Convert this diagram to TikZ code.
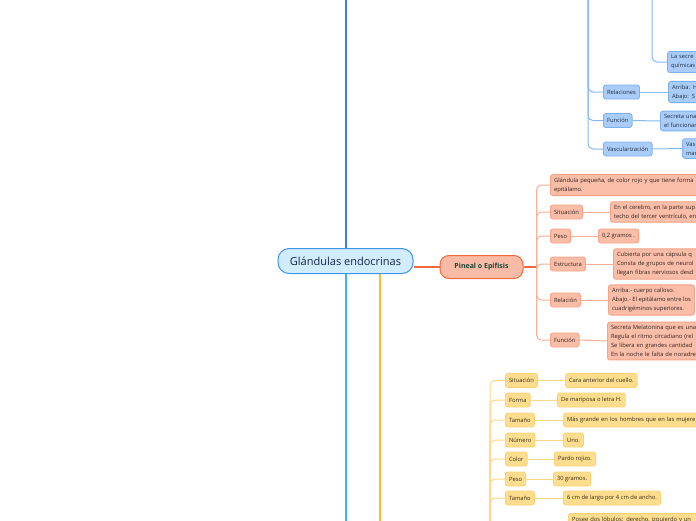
\documentclass[tikz,border=0pt]{standalone}
\usepackage{fontspec}
\setmainfont{Open Sans}
\definecolor{cfill}{HTML}{D0ECFD}
\definecolor{cdraw}{HTML}{3F95E6}
\definecolor{ctext}{HTML}{16264A}
\definecolor{pfill}{HTML}{F9BBA6}
\definecolor{pdraw}{HTML}{EF6A40}
\definecolor{ptext}{HTML}{1D4636}
\definecolor{bfill}{HTML}{A9CDF8}
\definecolor{bdraw}{HTML}{7DB0F0}
\definecolor{btext}{HTML}{1E2A44}
\definecolor{rfill}{HTML}{F9BDA8}
\definecolor{rdraw}{HTML}{F8A285}
\definecolor{rtext}{HTML}{33231C}
\definecolor{yfill}{HTML}{FEDD8E}
\definecolor{ydraw}{HTML}{FDD173}
\definecolor{ytext}{HTML}{352A12}
\definecolor{bline}{HTML}{86B8F2}
\definecolor{rline}{HTML}{F9AD92}
\definecolor{yline}{HTML}{FDD686}
\definecolor{mdblue}{HTML}{3A7EE0}
\definecolor{mlblue}{HTML}{3FB5F3}
\definecolor{myellow}{HTML}{FBBF2D}
\definecolor{morange}{HTML}{F16A3B}
\pgfdeclarelayer{bg}
\pgfsetlayers{bg,main}
\begin{document}
\begin{tikzpicture}[x=1pt,y=-1pt,
  box/.style={rounded corners=2.5pt, line width=0.9pt, inner xsep=3.6pt, inner ysep=3.2pt,
    font=\fontsize{5.8}{9}\selectfont, anchor=west, align=left},
  one/.style={minimum height=14pt},
  cut/.style={text width=#1},
  bb/.style={box, draw=bdraw, fill=bfill, text=btext},
  rb/.style={box, draw=rdraw, fill=rfill, text=rtext},
  yb/.style={box, draw=ydraw, fill=yfill, text=ytext},
  bl/.style={draw=bline, line width=1pt, rounded corners=5pt},
  rl/.style={draw=rline, line width=1pt, rounded corners=5pt},
  yl/.style={draw=yline, line width=1pt, rounded corners=5pt},
  mainline/.style={line width=2pt},
  central/.style={draw=cdraw, fill=cfill, text=ctext, line width=1pt, rounded corners=11pt,
    minimum width=135pt, minimum height=25pt, font=\fontsize{11}{13}\selectfont, inner sep=0pt},
  pineal/.style={draw=pdraw, fill=pfill, text=ptext, line width=1pt, rounded corners=9pt,
    minimum width=83pt, minimum height=23pt, font=\fontsize{7}{9}\selectfont\bfseries, inner sep=0pt}
]
\useasboundingbox (0,0) rectangle (696,520);
\clip (0,0) rectangle (696,520);

% central and first level
\node[central] (c) at (345.5,261) {Glándulas endocrinas};
\node[pineal] (p) at (481.5,267) {Pineal o Epífisis};

% Pineal branch
\node[rb, cut=150pt] (p1) at (550,185) {Glándula pequeña, de color rojo y que tiene forma\\epitálamo.};
\node[rb, one] (p2) at (550,212) {Situación};
\node[rb, cut=150pt] (p2a) at (610,212) {En el cerebro, en la parte sup\\techo del tercer ventrículo, en};
\node[rb, one] (p3) at (550,236) {Peso};
\node[rb, one] (p3a) at (598,236) {0,2 gramos .};
\node[rb, one] (p4) at (550,264) {Estructura};
\node[rb, cut=150pt] (p4a) at (613,264) {Cubierta por una cápsula q\\Consta de grupos de neurol\\llegan fibras nerviosos desd};
\node[rb, one] (p5) at (550,300) {Relación};
\node[rb] (p5a) at (608,300) {Arriba.- cuerpo calloso.\\Abajo.- El epitálamo entre los\\cuadrigéminos superiores.};
\node[rb, one] (p6) at (550,340) {Función};
\node[rb, cut=150pt] (p6a) at (607,341) {Secreta Melatonina que es una\\Regula el ritmo circadiano (rel\\Se libera en grandes cantidad\\En la noche le falta de noradre};

% Blue branch (top)
\node[bb, cut=60pt] (b0a) at (667,62) {La secre\\químicas};
\node[bb, one] (b1) at (603,92) {Relaciones};
\node[bb, cut=60pt] (b1a) at (668,92) {Arriba: H\\Abajo: S};
\node[bb, one] (b2) at (603,120.5) {Función};
\node[bb, cut=60pt] (b2a) at (660,121) {Secreta una\\el funcionam};
\node[bb, one] (b3) at (603,149) {Vascularización};
\node[bb, cut=60pt] (b3a) at (682,148.5) {Vas\\mar};

% Yellow branch (bottom)
\node[yb, one] (y1) at (505,380.5) {Situación};
\node[yb, one] (y1a) at (565,380.5) {Cara anterior del cuello.};
\node[yb, one] (y2) at (505,400) {Forma};
\node[yb, one] (y2a) at (557,400) {De mariposa o letra H.};
\node[yb, one] (y3) at (505,420) {Tamaño};
\node[yb, one, cut=150pt] (y3a) at (563,420) {Más grande en los hombres que en las mujere};
\node[yb, one] (y4) at (505,440) {Número};
\node[yb, one] (y4a) at (563,440) {Uno.};
\node[yb, one] (y5) at (505,459) {Color};
\node[yb, one] (y5a) at (554,459) {Pardo rojizo.};
\node[yb, one] (y6) at (505,479) {Peso};
\node[yb, one] (y6a) at (553,479) {30 gramos.};
\node[yb, one] (y7) at (505,498) {Tamaño};
\node[yb, one] (y7a) at (563,498) {6 cm de largo por 4 cm de ancho.};
\node[yb, one, cut=150pt, anchor=north west] (y8) at (568,513) {Posee dos lóbulos: derecho, izquierdo y un};

\coordinate (topb) at (345.5,-10);
\coordinate (botb) at (345.5,540);
\coordinate (yx) at (380,540);
\coordinate (bt) at (588,-10);
\coordinate (bt2) at (652,-10);
\coordinate (yt) at (490,540);

\begin{pgfonlayer}{bg}
  % main connectors
  \draw[mainline, mdblue] (c.north) -- (topb);
  \draw[mainline, mlblue] (c.south) -- (botb);
  \draw[mainline, myellow] (c.south -| yx) -- (yx);
  \draw[mainline, morange] (p.west) -- (p.west -| c.east);
  \draw[mainline, morange] (p.east) -- ++(13,0) coordinate (pj);
  % pineal subtree
  \foreach \n in {p1,p2,p3,p4,p5,p6} \draw[rl] (pj) |- (\n.west);
  \foreach \a/\b in {p2/p2a,p3/p3a,p4/p4a,p5/p5a,p6/p6a} \draw[rl] (\a.east) -- (\b.west);
  % blue subtree
  \foreach \n in {b1,b2,b3} \draw[bl] (bt) |- (\n.west);
  \draw[bl] (bt2) |- (b0a.west);
  \foreach \a/\b in {b1/b1a,b2/b2a,b3/b3a} \draw[bl] (\a.east) -- (\b.west);
  % yellow subtree
  \foreach \n in {y1,y2,y3,y4,y5,y6,y7} \draw[yl] (yt) |- (\n.west);
  \foreach \a/\b in {y1/y1a,y2/y2a,y3/y3a,y4/y4a,y5/y5a,y6/y6a,y7/y7a} \draw[yl] (\a.east) -- (\b.west);
\end{pgfonlayer}
\end{tikzpicture}
\end{document}
